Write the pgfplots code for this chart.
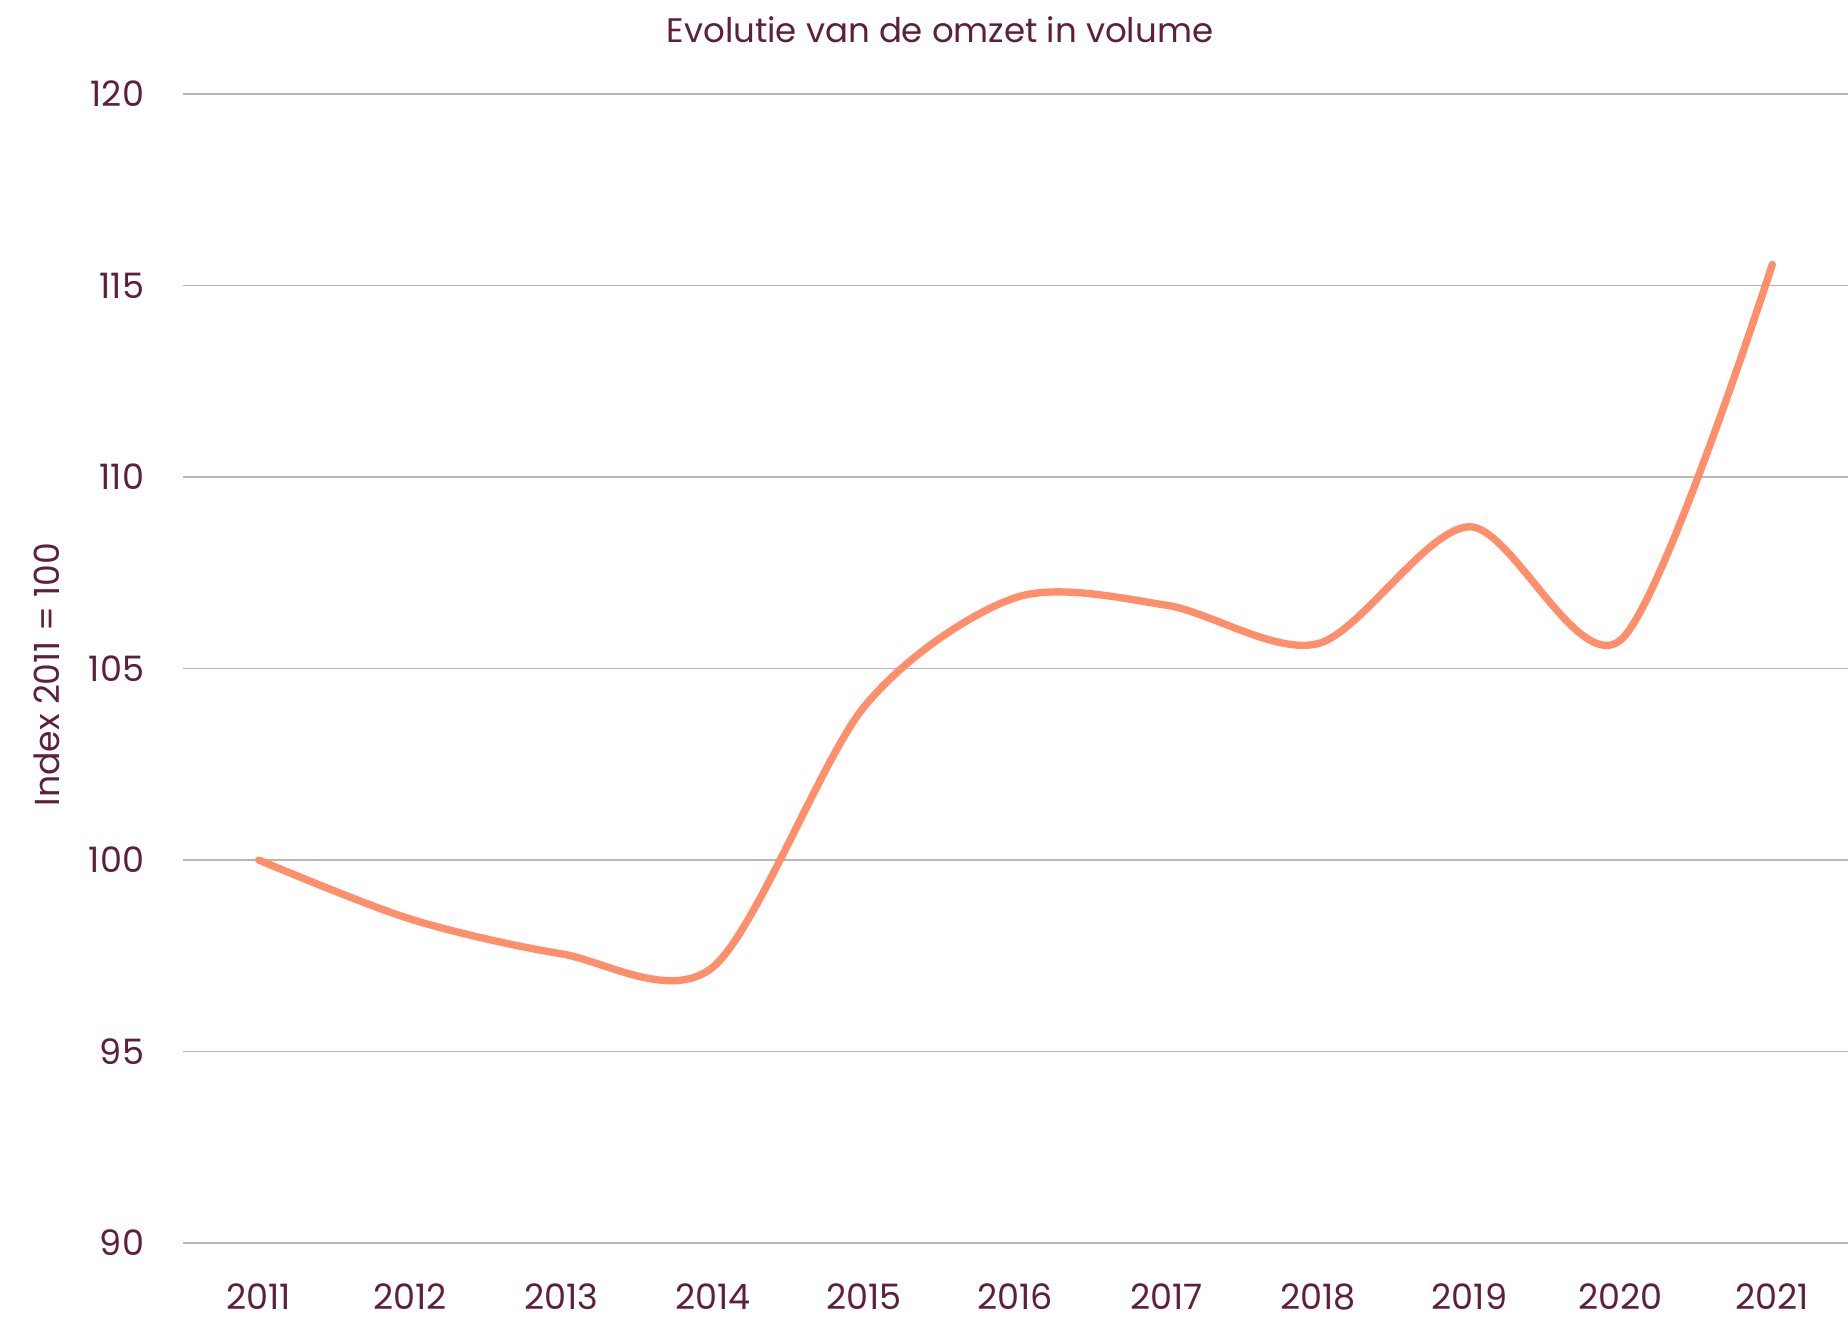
\documentclass[border=0pt]{standalone}
\usepackage{fontspec}
\setmainfont{Poppins}
\usepackage{pgfplots}
\pgfplotsset{compat=1.18}
\definecolor{txt}{HTML}{5E1F3D}
\definecolor{ln}{HTML}{FF8F6B}
\definecolor{grd}{HTML}{B8B8B8}
\begin{document}
\begin{tikzpicture}
\useasboundingbox (-54.9pt,-22.5pt) rectangle (499.5pt,372.9pt);
\begin{axis}[
  scale only axis,
  width=499.5pt, height=344.7pt,
  xmin=2010.5, xmax=2021.5,
  ymin=90, ymax=120,
  xtick={2011,...,2021},
  ytick={90,95,...,120},
  axis line style={draw=none},
  major tick length=0pt,
  ymajorgrids,
  grid style={grd, line width=0.45pt},
  /pgf/number format/assume math mode=true,
  /pgf/number format/1000 sep={},
  tick label style={font=\fontsize{10.5}{12}\selectfont, text=txt},
  yticklabel style={anchor=east, inner sep=0pt, xshift=-11.5pt},
  xticklabel style={anchor=north, inner sep=0pt, yshift=-12pt},
  clip=false,
]
\addplot[ln, line width=2.2pt, line cap=round, smooth, tension=0.5] coordinates {
  (2011,100) (2012,98.46) (2013,97.55) (2014,97.2) (2015,104.0) (2016,106.85)
  (2017,106.65) (2018,105.65) (2019,108.7) (2020,105.75) (2021,115.55)
};
\end{axis}
\node[anchor=base, text=txt, font=\fontsize{10.2}{12}\selectfont] at (227.1pt,360.2pt) {Evolutie van de omzet in volume};
\node[rotate=90, anchor=center, text=txt, font=\fontsize{10.4}{12}\selectfont] at (-40.8pt,170.5pt) {Index 2011 = 100};
\end{tikzpicture}
\end{document}
